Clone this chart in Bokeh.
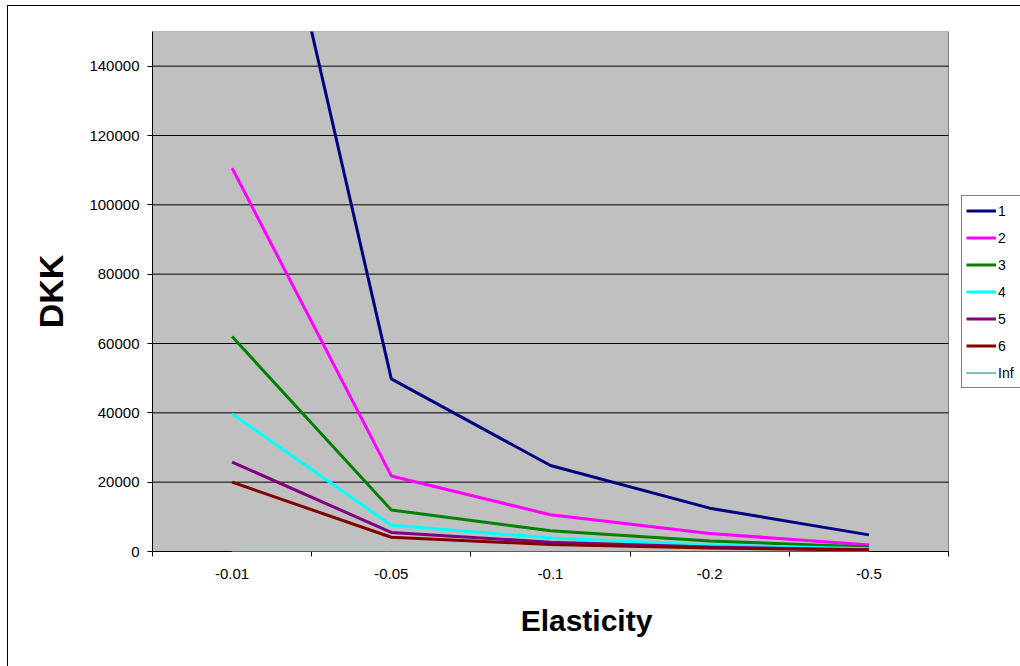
from bokeh.plotting import figure
from bokeh.models import Range1d, FixedTicker, NumeralTickFormatter, Legend, LegendItem
from bokeh.embed import file_html
from bokeh.resources import INLINE

# ---- data ----
categories = ["-0.01", "-0.05", "-0.1", "-0.2", "-0.5"]
series_names = ["1", "2", "3", "4", "5", "6", "Inf"]
s1 = [250000, 49800, 24800, 12500, 4800]
s2 = [110600, 21800, 10600, 5200, 1900]
s3 = [62000, 12000, 6000, 3000, 1300]
s4 = [39700, 7600, 3900, 1900, 800]
s5 = [25800, 5500, 2700, 1300, 500]
s6 = [20000, 4100, 2000, 1000, 400]
s_inf = [0, 0, 0, 0, 0]
y_ticks = [0, 20000, 40000, 60000, 80000, 100000, 120000, 140000]
y_max = 150000

series = [s1, s2, s3, s4, s5, s6, s_inf]
colors = ["#000080", "#FF00FF", "#008000", "#00FFFF", "#800080", "#800000", "#008080"]
widths = [3, 3, 3, 3, 3, 3, 1]

n = len(categories)
xs = [i + 0.5 for i in range(n)]
boundaries = [float(i) for i in range(n + 1)]

# plot area (grey) occupies 796 px of an 868 px wide frame; the rest holds the legend
plot_px, frame_px = 796, 868
x_end = n * frame_px / plot_px

p = figure(width=1020, height=666, output_backend="svg", toolbar_location=None,
           x_range=Range1d(0, x_end), y_range=Range1d(0, y_max),
           min_border_left=152, min_border_top=31, min_border_right=0, min_border_bottom=115)
p.styles = {
    "background": "linear-gradient(#000000, #000000) 7px 5px / 1px calc(100% - 5px) no-repeat, "
                  "linear-gradient(#000000, #000000) 7px 5px / calc(100% - 7px) 1px no-repeat, #ffffff"
}
p.background_fill_color = None
p.border_fill_color = None
p.outline_line_color = None

# grey plot area
p.quad(left=0, right=n, bottom=0, top=y_max, fill_color="#C0C0C0", line_color="#808080", line_width=1)
# horizontal grid lines
p.segment(x0=[0] * len(y_ticks), x1=[n] * len(y_ticks), y0=y_ticks, y1=y_ticks,
          line_color="black", line_width=1)

renderers = []
for vals, c, w in zip(series, colors, widths):
    r = p.line(xs, vals, line_color=c, line_width=w)
    renderers.append(r)
renderers[-1].level = "annotation"

# grid
p.xgrid.visible = False
p.ygrid.visible = False

# y axis
p.yaxis.ticker = FixedTicker(ticks=y_ticks, minor_ticks=[])
p.yaxis.formatter = NumeralTickFormatter(format="0")
p.yaxis.major_tick_in = 0
p.yaxis.major_tick_out = 5
p.yaxis.minor_tick_in = 0
p.yaxis.minor_tick_out = 0
p.yaxis.axis_line_color = "black"
p.yaxis.major_tick_line_color = "black"
p.yaxis.major_label_text_font = "Liberation Sans"
p.yaxis.major_label_text_font_size = "15px"
p.yaxis.major_label_text_color = "black"
p.yaxis.major_label_standoff = 8
p.yaxis.axis_label = "DKK"
p.yaxis.axis_label_text_font = "Liberation Sans"
p.yaxis.axis_label_text_font_style = "bold"
p.yaxis.axis_label_text_font_size = "34px"
p.yaxis.axis_label_text_color = "black"
p.yaxis.axis_label_standoff = 16

# x axis
p.xaxis.bounds = (0, n)
p.xaxis.ticker = FixedTicker(ticks=xs, minor_ticks=boundaries)
p.xaxis.major_label_overrides = {x: c for x, c in zip(xs, categories)}
p.xaxis.major_tick_in = 0
p.xaxis.major_tick_out = 0
p.xaxis.minor_tick_in = 0
p.xaxis.minor_tick_out = 5
p.xaxis.minor_tick_line_color = "black"
p.xaxis.axis_line_color = "black"
p.xaxis.major_label_text_font = "Liberation Sans"
p.xaxis.major_label_text_font_size = "15px"
p.xaxis.major_label_text_color = "black"
p.xaxis.major_label_standoff = 12
p.xaxis.axis_label = "Elasticity"
p.xaxis.axis_label_text_font = "Liberation Sans"
p.xaxis.axis_label_text_font_style = "bold"
p.xaxis.axis_label_text_font_size = "30px"
p.xaxis.axis_label_text_color = "black"
p.xaxis.axis_label_standoff = 22

legend = Legend(items=[LegendItem(label=nm, renderers=[r]) for nm, r in zip(series_names, renderers)],
                location=(809, 163))
legend.border_line_color = "black"
legend.border_line_width = 1
legend.background_fill_color = "white"
legend.background_fill_alpha = 1
legend.label_text_font = "Liberation Sans"
legend.label_text_font_size = "14px"
legend.label_text_color = "black"
legend.glyph_width = 30
legend.glyph_height = 21
legend.label_height = 21
legend.label_standoff = 2
legend.spacing = 6
legend.padding = 4
legend.margin = 0
p.add_layout(legend, "center")

open("out.html", "w").write(file_html(p, INLINE))
